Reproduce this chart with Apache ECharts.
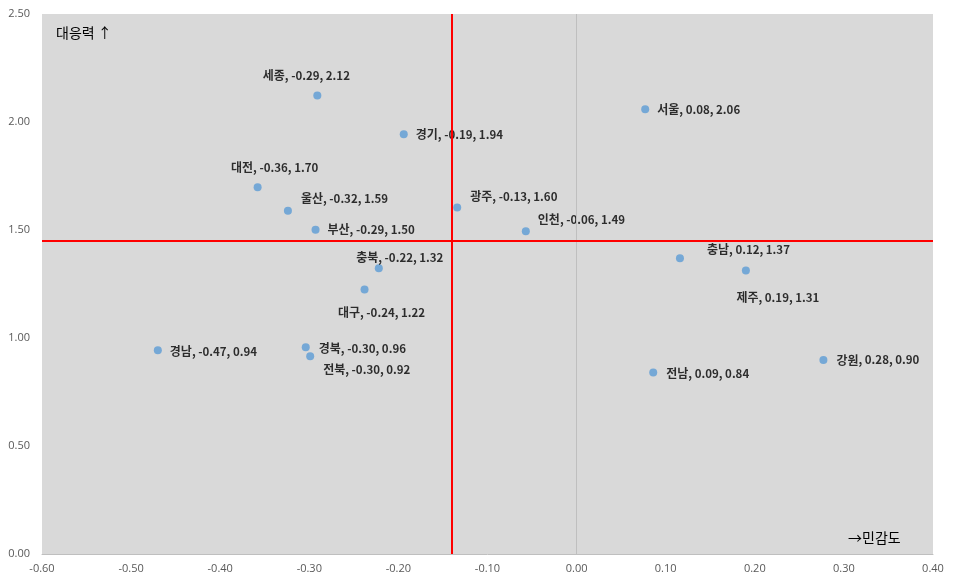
<!DOCTYPE html>
<html><head><meta charset="utf-8">
<script src="https://cdn.jsdelivr.net/npm/echarts@6/dist/echarts.min.js"></script>
<style>html,body{margin:0;padding:0;background:#fff}#c{width:958px;height:585px}</style>
</head><body><div id="c"></div>
<script>
const regions = ['세종','경기','대전','울산','부산','광주','인천','서울','충남','제주','충북','대구','경남','경북','전북','전남','강원'];
const sensitivity = [-0.291,-0.194,-0.358,-0.324,-0.293,-0.134,-0.057,0.077,0.116,0.190,-0.222,-0.238,-0.470,-0.304,-0.299,0.086,0.277];
const response = [2.123,1.943,1.698,1.589,1.501,1.604,1.494,2.059,1.369,1.312,1.323,1.224,0.943,0.957,0.916,0.840,0.898];
const xTicks = [-0.6,-0.5,-0.4,-0.3,-0.2,-0.1,0,0.1,0.2,0.3,0.4];
const yTicks = [0,0.5,1,1.5,2,2.5];
const refX = -0.142;
const refY = 1.453;

// label placement (style only)
const labelPlace = {
 '세종':['top',[-11,-5]], '경기':['right',[3,0]], '대전':['top',[17,-5]], '울산':['right',[4,-12]],
 '부산':['right',[3,0]], '광주':['right',[4,-11]], '인천':['right',[3,-12]], '서울':['right',[3,0]],
 '충남':['right',[18,-9]], '제주':['bottom',[32,12]], '충북':['top',[21,4]], '대구':['bottom',[17,8]],
 '경남':['right',[3,1]], '경북':['right',[4,1]], '전북':['right',[4,13]], '전남':['right',[4,1]], '강원':['right',[4,0]]
};

const data = regions.map((r,i)=>({
  name:r, value:[sensitivity[i], response[i]],
  label:{position:labelPlace[r][0], offset:labelPlace[r][1]}
}));

const chart = echarts.init(document.getElementById('c'));
chart.setOption({
  animation:false,
  grid:{left:42,right:25,top:14,bottom:31,show:true,backgroundColor:'#d9d9d9',borderWidth:0},
  xAxis:{type:'value',min:xTicks[0],max:xTicks[xTicks.length-1],interval:0.1,
    axisLine:{show:true,onZero:false,lineStyle:{color:'#bfbfbf',width:1}},
    axisTick:{show:false},splitLine:{show:false},
    axisLabel:{color:'#595959',fontSize:11,fontFamily:'Open Sans',margin:9,formatter:v=>v.toFixed(2)}},
  yAxis:{type:'value',min:yTicks[0],max:yTicks[yTicks.length-1],interval:0.5,
    axisLine:{show:false},axisTick:{show:false},splitLine:{show:false},
    axisLabel:{color:'#595959',fontSize:11,fontFamily:'Open Sans',margin:12,formatter:v=>v.toFixed(2)}},
  graphic:[
    {type:'text',left:56,top:26,style:{text:'대응력 ↑',font:'14px "Noto Sans CJK KR"',fill:'#000'}},
    {type:'text',left:848,top:531,style:{text:'→민감도',font:'14px "Noto Sans CJK KR"',fill:'#000'}}
  ],
  series:[{
    type:'scatter',symbol:'circle',symbolSize:8,
    itemStyle:{color:'#5b9bd5'},
    data:data,
    label:{show:true,distance:5,color:'#000',fontWeight:'bold',fontFamily:'"Noto Sans CJK KR"',
      formatter:p=>'{k|'+p.name+'}{n|, '+p.value[0].toFixed(2)+', '+p.value[1].toFixed(2)+'}',
      rich:{
        k:{fontSize:12,fontWeight:'bold',fontFamily:'"Noto Sans CJK KR"',color:'#000'},
        n:{fontSize:11.5,fontWeight:'bold',fontFamily:'"Noto Sans CJK KR"',color:'#000'}
      }},
    markLine:{silent:true,symbol:['none','none'],label:{show:false},
      data:[
        {xAxis:0,lineStyle:{color:'#bfbfbf',width:1,type:'solid'}},
        {xAxis:refX,lineStyle:{color:'#ff0000',width:2,type:'solid'}},
        {yAxis:refY,lineStyle:{color:'#ff0000',width:2,type:'solid'}}
      ]},
    z:3
  }]
});
</script></body></html>
